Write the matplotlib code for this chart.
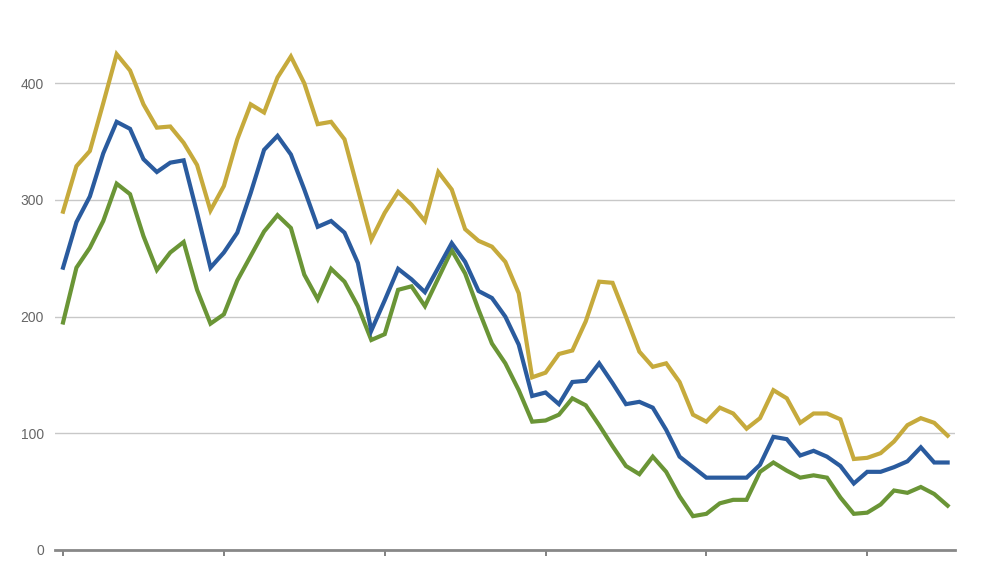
import matplotlib
matplotlib.use("Agg")
import matplotlib.pyplot as plt

yellow = [290, 329, 342, 383, 425, 411, 382, 362, 363, 349, 330, 291, 312, 352, 382, 375,
          405, 423, 400, 365, 367, 352, 309, 266, 289, 307, 296, 282, 324, 309, 275, 265,
          260, 247, 220, 148, 152, 168, 171, 196, 230, 229, 200, 170, 157, 160, 144, 116,
          110, 122, 117, 104, 113, 137, 130, 109, 117, 117, 112, 78, 79, 83, 93, 107, 113,
          109, 98]
blue = [242, 281, 303, 340, 367, 361, 335, 324, 332, 334, 289, 242, 255, 272, 306, 343,
        355, 339, 309, 277, 282, 272, 246, 188, 214, 241, 232, 221, 242, 263, 247, 222,
        216, 200, 176, 132, 135, 125, 144, 145, 160, 143, 125, 127, 122, 103, 80, 71,
        62, 62, 62, 62, 73, 97, 95, 81, 85, 80, 72, 57, 67, 67, 71, 76, 88, 75, 75]
green = [195, 242, 259, 282, 314, 305, 269, 240, 255, 264, 223, 194, 202, 231, 252, 273,
         287, 276, 236, 215, 241, 230, 209, 180, 185, 223, 226, 209, 233, 257, 237, 206,
         177, 160, 137, 110, 111, 116, 130, 124, 107, 89, 72, 65, 80, 67, 46, 29,
         31, 40, 43, 43, 67, 75, 68, 62, 64, 62, 45, 31, 32, 39, 51, 49, 54, 48, 38]
months = list(range(len(yellow)))
x_ticks = [0, 12, 24, 36, 48, 60]
y_ticks = [0, 100, 200, 300, 400]

fig = plt.figure(figsize=(10, 5.63), dpi=100)
ax = fig.add_axes([0.055, 0.0231, 0.9, 0.9325])

ax.plot(months, yellow, color="#c6aa3c", lw=3, solid_joinstyle="miter", zorder=3)
ax.plot(months, blue, color="#2a5b9e", lw=3, solid_joinstyle="miter", zorder=4)
ax.plot(months, green, color="#6a9536", lw=3, solid_joinstyle="miter", zorder=3)

ax.set_xlim(-0.6, 66.55)
ax.set_ylim(0, 450)
ax.set_xticks(x_ticks)
ax.set_xticklabels([])
ax.set_yticks(y_ticks)
ax.set_yticklabels([str(v) for v in y_ticks], color="#666666", fontsize=10,
                   family="Liberation Sans")
ax.tick_params(axis="y", length=0, pad=8)
ax.tick_params(axis="x", length=4, width=1.3, color="#777777", direction="out")
ax.grid(axis="y", color="#c8c8c8", lw=1)
ax.set_axisbelow(True)
for s in ["top", "right", "left"]:
    ax.spines[s].set_visible(False)
ax.spines["bottom"].set_color("#888888")
ax.spines["bottom"].set_linewidth(2)

fig.savefig("out.png", dpi=100)
